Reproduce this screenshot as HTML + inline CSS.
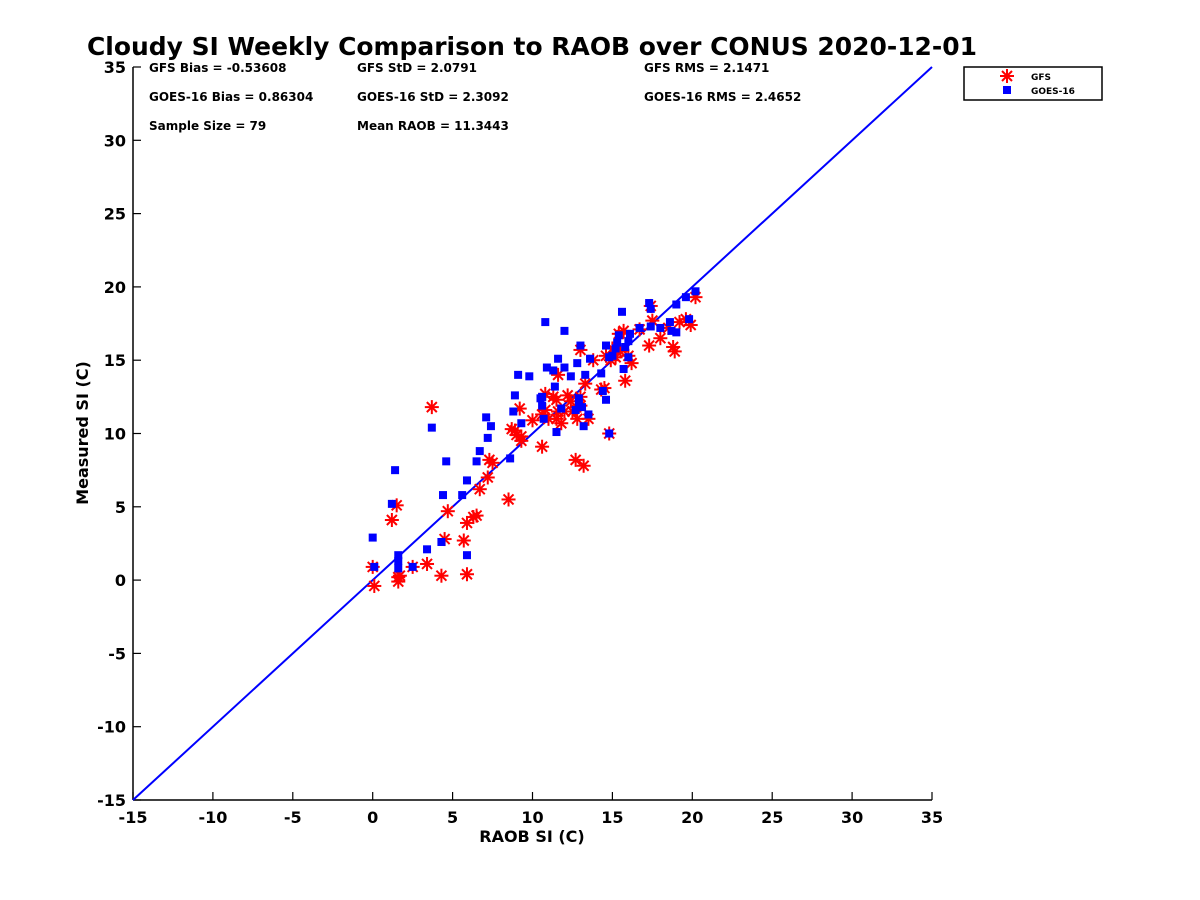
<!DOCTYPE html>
<html><head><meta charset="utf-8"><style>
html,body{margin:0;padding:0;background:#fff;}
svg{display:block;font-family:"DejaVu Sans","Liberation Sans",sans-serif;font-weight:bold;}
</style></head><body>
<svg id="c" width="1200" height="900" viewBox="0 0 1200 900">
<text x="87" y="55" font-size="25" textLength="890" lengthAdjust="spacingAndGlyphs">Cloudy SI Weekly Comparison to RAOB over CONUS 2020-12-01</text>
<g id="axes"></g>
<g id="pts"></g>
<g font-size="12">
<text x="149" y="72">GFS Bias = -0.53608</text>
<text x="357" y="72">GFS StD = 2.0791</text>
<text x="644" y="72">GFS RMS = 2.1471</text>
<text x="149" y="101">GOES-16 Bias = 0.86304</text>
<text x="357" y="101">GOES-16 StD = 2.3092</text>
<text x="644" y="101">GOES-16 RMS = 2.4652</text>
<text x="149" y="130">Sample Size = 79</text>
<text x="357" y="130">Mean RAOB = 11.3443</text>
</g>
<g>
<rect x="964" y="67" width="138" height="33" fill="#fff" stroke="#000" stroke-width="1.5"/>
<g stroke="#f00" stroke-width="2"><line x1="1000" y1="76" x2="1014" y2="76"/><line x1="1007" y1="69" x2="1007" y2="83"/><line x1="1002" y1="71" x2="1012" y2="81"/><line x1="1012" y1="71" x2="1002" y2="81"/></g>
<rect x="1003" y="86" width="8" height="8" fill="#00f"/>
<text x="1031" y="80" font-size="9">GFS</text>
<text x="1031" y="94" font-size="9">GOES-16</text>
</g>
</svg>
<script>
const xTicks=[-15,-10,-5,0,5,10,15,20,25,30,35];
const yTicks=[-15,-10,-5,0,5,10,15,20,25,30,35];
const gfsX=[0,0.1,1.2,1.5,1.6,1.6,1.7,2.5,3.4,3.7,4.3,4.5,4.7,5.7,5.9,5.9,6.3,6.5,6.7,7.2,7.3,7.5,8.5,8.7,9.0,9.2,9.3,10.0,10.6,10.6,10.8,11.0,11.3,11.5,11.6,11.5,11.8,12.2,12.0,12.5,12.7,12.8,13.0,13.2,13.3,13.5,13.8,14.3,14.8,14.6,15.2,15.5,15.8,15.7,16.0,16.2,17.3,17.4,17.5,18.0,18.5,18.8,18.9,19.2,19.6,19.9,20.2,14.9,15.0,16.7,12.4,9.3,13.0,11.6,10.8,8.9,15.4,13.0,14.5];
const gfsY=[0.9,-0.4,4.1,5.1,0.2,-0.1,0.3,0.9,1.1,11.8,0.3,2.8,4.7,2.7,3.9,0.4,4.3,4.4,6.2,7.0,8.2,8.0,5.5,10.3,9.9,11.7,9.5,10.9,9.1,11.3,12.7,11.0,12.5,12.3,14.0,11.0,10.7,12.6,11.5,11.5,8.2,11.0,15.7,7.8,13.4,11.0,15.0,13.0,10.0,15.3,15.2,15.6,13.6,17.0,15.3,14.8,16.0,18.7,17.7,16.5,17.2,15.9,15.6,17.6,17.8,17.4,19.3,15.0,15.8,17.1,12.2,9.8,11.9,11.5,11.6,10.2,16.8,12.5,13.1];
const goesX=[0,0.1,1.2,1.4,1.6,1.6,1.6,2.5,3.4,3.7,4.3,4.4,4.6,5.6,5.9,5.9,6.5,6.7,7.1,7.2,7.4,8.6,8.8,8.9,9.1,9.3,9.8,10.6,10.6,10.7,10.8,10.9,11.3,11.4,11.5,11.6,11.8,12.0,12.0,12.4,12.7,12.8,12.9,13.0,13.1,13.2,13.3,13.5,13.6,14.3,14.4,14.6,14.6,14.8,15.0,15.2,15.4,15.6,15.7,15.8,16.0,16.1,16.7,17.3,17.4,17.4,18.0,18.6,18.7,19.0,19.0,19.6,19.8,20.2,15.3,16.0,12.9,14.8,10.5];
const goesY=[2.9,0.9,5.2,7.5,1.7,1.3,0.8,0.9,2.1,10.4,2.6,5.8,8.1,5.8,1.7,6.8,8.1,8.8,11.1,9.7,10.5,8.3,11.5,12.6,14.0,10.7,13.9,12.5,11.9,11.0,17.6,14.5,14.3,13.2,10.1,15.1,11.7,17.0,14.5,13.9,11.6,14.8,12.4,16.0,11.8,10.5,14.0,11.3,15.1,14.1,12.9,12.3,16.0,10.0,15.3,15.8,16.7,18.3,14.4,15.9,15.2,16.8,17.2,18.9,18.5,17.3,17.2,17.6,17.0,16.9,18.8,19.3,17.8,19.7,16.2,16.3,12.0,15.2,12.4];
const X0=133,X1=932,Y0=800,Y1=67,MIN=-15,MAX=35;
const sx=v=>X0+(v-MIN)/(MAX-MIN)*(X1-X0);
const sy=v=>Y0-(v-MIN)/(MAX-MIN)*(Y0-Y1);
const NS='http://www.w3.org/2000/svg';
function mk(t,a,p){const e=document.createElementNS(NS,t);for(const k in a)e.setAttribute(k,a[k]);p.appendChild(e);return e;}
const ax=document.getElementById('axes'),pts=document.getElementById('pts');
let e=mk('line',{x1:X0,y1:Y0,x2:X1,y2:Y0,stroke:'#000','stroke-width':1.5},ax);


e=mk('line',{x1:X0,y1:Y0,x2:X0,y2:Y1,stroke:'#000','stroke-width':1.5},ax);


xTicks.forEach(t=>{mk('line',{x1:sx(t),y1:Y0,x2:sx(t),y2:Y0-8,stroke:'#000','stroke-width':1.2},ax);
 const tx=mk('text',{x:sx(t),y:Y0+23,'text-anchor':'middle','font-size':16},ax);tx.textContent=t;
 
 });
yTicks.forEach(t=>{mk('line',{x1:X0,y1:sy(t),x2:X0+8,y2:sy(t),stroke:'#000','stroke-width':1.2},ax);
 const tx=mk('text',{x:X0-7,y:sy(t)+6,'text-anchor':'end','font-size':16},ax);tx.textContent=t;
 
 });
e=mk('text',{x:532,y:842,'text-anchor':'middle','font-size':16},ax);e.textContent='RAOB SI (C)';


e=mk('text',{x:0,y:0,'text-anchor':'middle','font-size':16,transform:'translate(88,433) rotate(-90)'},ax);e.textContent='Measured SI (C)';


e=mk('line',{x1:sx(-15),y1:sy(-15),x2:sx(35),y2:sy(35),stroke:'#00f','stroke-width':2},pts);


gfsX.forEach((v,i)=>{const cx=sx(v),cy=sy(gfsY[i]),r=7;
 const g=mk('g',{stroke:'#f00','stroke-width':2},pts);
 
 
 mk('line',{x1:cx-r,y1:cy,x2:cx+r,y2:cy},g);mk('line',{x1:cx,y1:cy-r,x2:cx,y2:cy+r},g);
 mk('line',{x1:cx-5,y1:cy-5,x2:cx+5,y2:cy+5},g);mk('line',{x1:cx+5,y1:cy-5,x2:cx-5,y2:cy+5},g);});
goesX.forEach((v,i)=>{const r=mk('rect',{x:sx(v)-4,y:sy(goesY[i])-4,width:8,height:8,fill:'#00f'},pts);
 
 });
</script>
</body></html>
